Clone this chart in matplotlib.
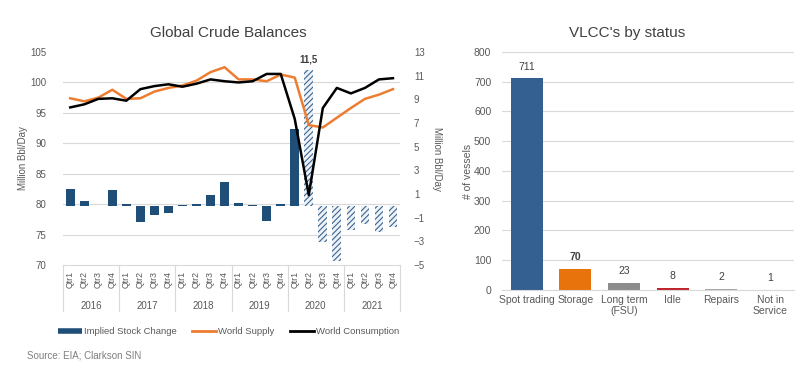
import matplotlib.pyplot as plt
import matplotlib.transforms as mtransforms
import numpy as np
from matplotlib.lines import Line2D

plt.rcParams.update({"font.family": ["Liberation Sans", "DejaVu Sans"], "hatch.linewidth": 0.8})

# ── Data ────────────────────────────────────────────────────────────────────
years    = ["2016", "2017", "2018", "2019", "2020", "2021"]
quarters = ["Qtr1", "Qtr2", "Qtr3", "Qtr4"]

stock_change = [1.45, 0.37, 0.03, 1.3, 0.17, -1.33, -0.74, -0.57,
                0.06, 0.14, 0.96, 2.04, 0.23, 0.11, -1.25, 0.14,
                6.5, 11.5, -3.06, -4.68, -2.07, -1.5, -2.21, -1.79]
world_supply = [97.4, 96.9, 97.5, 98.8, 97.3, 97.4, 98.5, 99.1,
                99.5, 100.3, 101.7, 102.5, 100.5, 100.5, 100.2, 101.3,
                100.8, 93.0, 92.6, 94.2, 95.8, 97.3, 98.0, 98.9]
world_consumption = [95.9, 96.4, 97.3, 97.4, 97.0, 98.9, 99.4, 99.7,
                     99.3, 99.8, 100.5, 100.2, 100.0, 100.2, 101.4, 101.4,
                     94.0, 81.5, 95.8, 99.1, 98.2, 99.1, 100.5, 100.7]
first_forecast = 17   # 2020 Qtr2 onwards drawn hatched

vlcc_status = ["Spot trading", "Storage", "Long term\n(FSU)", "Idle", "Repairs", "Not in\nService"]
vlcc_count  = [711, 70, 23, 8, 2, 1]
vlcc_colors = ["#335F91", "#E8720C", "#8C8C8C", "#C0232C", "#A6A6A6", "#D9D9D9"]

GREY  = "#595959"
NAVY  = "#1F4E79"
GRID  = "#D9D9D9"

fig = plt.figure(figsize=(8, 3.77), dpi=100)

# ── Left chart: Global Crude Balances ──────────────────────────────────────
ax = fig.add_axes([0.079, 0.297, 0.421, 0.565])   # bars, right-hand scale
x = np.arange(len(stock_change))
for i, v in enumerate(stock_change):
    if i < first_forecast:
        ax.bar(x[i], v, width=0.62, color=NAVY, zorder=2)
    else:
        ax.bar(x[i], v, width=0.62, facecolor="#EEF2F7", edgecolor="#3A6690",
               hatch="//////", linewidth=0, zorder=2)
ax.annotate(f"{stock_change[first_forecast]:.1f}".replace(".", ","),
            (x[first_forecast], stock_change[first_forecast]),
            xytext=(0, 4), textcoords="offset points", ha="center", va="bottom",
            fontsize=7, fontweight="bold", color="#404040")

ax.set_xlim(-0.5, len(x) - 0.5)
ax.set_ylim(-5, 13)
ax.set_yticks(np.arange(-5, 14, 2))
ax.set_yticks(np.linspace(-5, 13, 8), minor=True)
ax.grid(axis="y", which="minor", color=GRID, linewidth=0.8, zorder=0)
ax.set_axisbelow(True)

ax.set_xticks(x)
ax.set_xticklabels(quarters * len(years), rotation=90, fontsize=6.3, color=GREY)
ax.tick_params(axis="x", length=0, pad=4)
for s in ["left", "right", "top"]:
    ax.spines[s].set_visible(False)
ax.spines["bottom"].set_color(GRID)

trans = mtransforms.blended_transform_factory(ax.transData, ax.transAxes)
for k in range(len(years) + 1):
    ax.plot([k * 4 - 0.5] * 2, [0, -0.215], transform=trans, color=GRID,
            linewidth=0.8, clip_on=False)
for k, yr in enumerate(years):
    ax.text(k * 4 + 1.5, -0.19, yr, transform=trans, ha="center", va="center",
            fontsize=7, color=GREY)

ax2 = ax.twinx()   # lines, left-hand scale
ax2.plot(x, world_supply, color="#ED7D31", linewidth=1.8, zorder=3)
ax2.plot(x, world_consumption, color="black", linewidth=1.8, zorder=4)
ax2.set_ylim(70, 105)
ax2.set_yticks(np.arange(70, 106, 5))
for s in ax2.spines.values():
    s.set_visible(False)

# swap sides: bars' scale on the right, lines' scale on the left
ax.yaxis.tick_right()
ax.yaxis.set_label_position("right")
ax.tick_params(axis="y", which="both", length=0, labelsize=7, labelcolor=GREY, pad=10)
ax.set_ylabel("Million Bbl/Day", rotation=270, fontsize=7, color=GREY, labelpad=12)
ax2.yaxis.tick_left()
ax2.yaxis.set_label_position("left")
ax2.tick_params(axis="y", length=0, labelsize=7, labelcolor=GREY, pad=12)
ax2.set_ylabel("Million Bbl/Day", fontsize=7, color=GREY, labelpad=2)

fig.text(0.286, 0.912, "Global Crude Balances", ha="center", va="center",
         fontsize=11, color="#404040")

handles = [Line2D([], [], color=NAVY, linewidth=4, solid_capstyle="butt"),
           Line2D([], [], color="#ED7D31", linewidth=2),
           Line2D([], [], color="black", linewidth=2)]
fig.legend(handles, ["Implied Stock Change", "World Supply", "World Consumption"],
           loc="center left", bbox_to_anchor=(0.062, 0.12), ncol=3, frameon=False,
           fontsize=6.8, handlelength=2.5, handletextpad=0.2, columnspacing=1.7,
           labelcolor=GREY)

fig.text(0.034, 0.058, "Source: EIA; Clarkson SIN", fontsize=7, color="#7F7F7F",
         va="center")

# ── Right chart: VLCC's by status ──────────────────────────────────────────
bx = fig.add_axes([0.628, 0.231, 0.365, 0.631])
xs = np.arange(len(vlcc_status))
bars = bx.bar(xs, vlcc_count, width=0.66, color=vlcc_colors, zorder=2)
for b, v in zip(bars, vlcc_count):
    bx.annotate(str(v), (b.get_x() + b.get_width() / 2, v), xytext=(0, 5),
                textcoords="offset points", ha="center", va="bottom", fontsize=7.5,
                color="#404040", fontweight="bold" if v == 70 else "normal")
bx.set_xlim(-0.5, len(xs) - 0.5)
bx.set_ylim(0, 800)
bx.set_yticks(np.arange(0, 801, 100))
bx.set_xticks(xs)
bx.set_xticklabels(vlcc_status, fontsize=7.5, color=GREY)
bx.tick_params(length=0, labelsize=7.5, labelcolor=GREY)
bx.tick_params(axis="y", pad=8)
bx.grid(axis="y", color=GRID, linewidth=0.8, zorder=0)
bx.set_axisbelow(True)
bx.set_ylabel("# of vessels", fontsize=7.5, color=GREY, labelpad=1)
for s in ["left", "right", "top"]:
    bx.spines[s].set_visible(False)
bx.spines["bottom"].set_color(GRID)

fig.text(0.784, 0.912, "VLCC's by status", ha="center", va="center",
         fontsize=11, color="#404040")

fig.savefig("out.png", dpi=100)
